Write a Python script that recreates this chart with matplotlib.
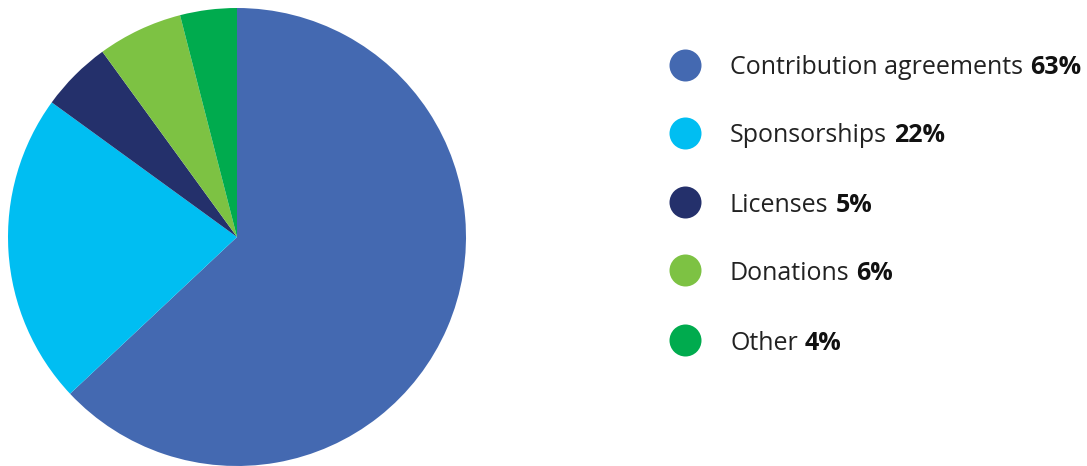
import matplotlib.pyplot as plt

# Daten
kategorien = ["Contribution agreements", "Sponsorships", "Licenses", "Donations", "Other"]
anteile = [63, 22, 5, 6, 4]
farben = ["#4469B1", "#00BEF2", "#24306B", "#7DC243", "#00AB4E"]

W, H = 1087, 466
fig = plt.figure(figsize=(W / 100, H / 100), dpi=100)

# Kreisdiagramm
ax = fig.add_axes([8 / W, 0 / H, 458 / W, 458 / H])
ax.pie(anteile, colors=farben, startangle=90, counterclock=False,
       radius=1.0, wedgeprops=dict(linewidth=0))
ax.set_xlim(-1, 1)
ax.set_ylim(-1, 1)
ax.set_aspect("equal")
ax.axis("off")

# Legende von Hand
lx = fig.add_axes([0, 0, 1, 1])
lx.set_xlim(0, W)
lx.set_ylim(H, 0)
lx.axis("off")

schrift = "Open Sans"
groesse = 18
zeilen_y = [65, 133, 202, 270, 340]
for name, wert, farbe, y in zip(kategorien, anteile, farben, zeilen_y):
    lx.scatter([685], [y], s=32 ** 2 * 0.72 * 0.72, color=farbe, linewidths=0)
    t = lx.text(730, y + 3, name, fontsize=groesse, fontfamily=schrift, fontweight="normal",
                color="#222222", va="center", ha="left")
    lx.annotate(f"{wert}%", xy=(1, 0.5), xycoords=t, xytext=(5, 0),
                textcoords="offset points", fontsize=groesse, fontfamily=schrift,
                fontweight="bold", color="#111111", va="center", ha="left")

fig.savefig("out.png", dpi=100)
